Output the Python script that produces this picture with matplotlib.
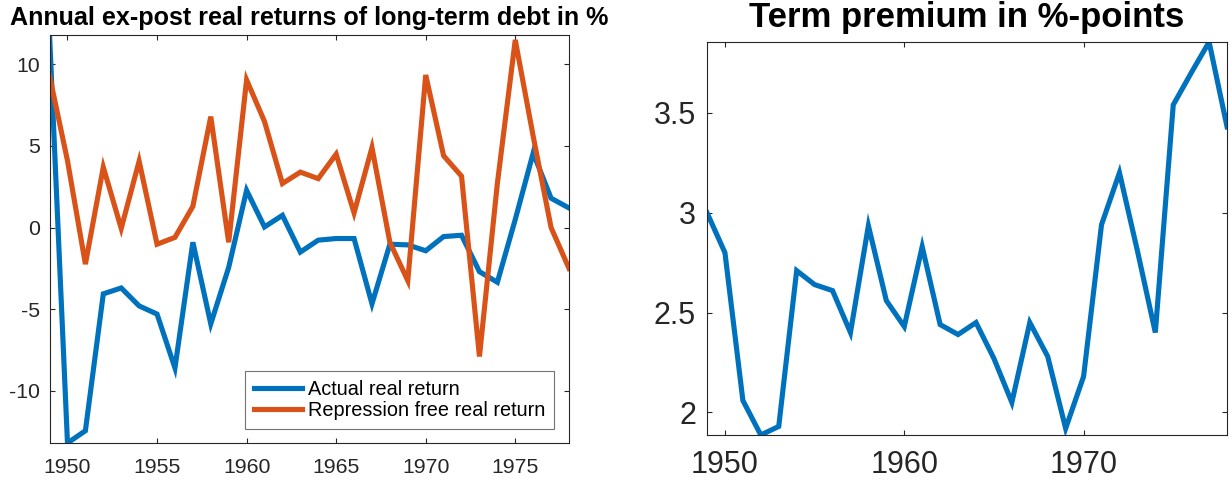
import matplotlib
matplotlib.use("Agg")
import matplotlib.pyplot as plt
import numpy as np

plt.rcParams['font.family'] = ['Liberation Sans', 'DejaVu Sans']

years = list(range(1949, 1979))

actual_real_return = [11.8, -13.2, -12.45, -4.06, -3.7, -4.8, -5.3, -8.6, -0.9, -5.9,
                      -2.44, 2.28, 0.04, 0.75, -1.5, -0.77, -0.67, -0.67, -4.67, -1.02,
                      -1.06, -1.42, -0.55, -0.47, -2.7, -3.35, 0.5, 4.57, 1.8, 1.2]

repression_free_return = [9.3, 4.1, -2.24, 3.7, -0.05, 4.07, -1.02, -0.6, 1.3, 6.8,
                          -0.9, 9.05, 6.5, 2.7, 3.4, 3.0, 4.5, 0.9, 4.9, -0.9,
                          -3.25, 9.35, 4.4, 3.15, -7.9, 2.7, 11.5, 5.6, 0.0, -2.5]

term_premium = [3.0, 2.80, 2.06, 1.887, 1.93, 2.71, 2.64, 2.61, 2.40, 2.935,
                2.56, 2.43, 2.83, 2.44, 2.39, 2.45, 2.27, 2.05, 2.45, 2.28,
                1.92, 2.18, 2.94, 3.20, 2.81, 2.40, 3.54, 3.70, 3.855, 3.43]

left_xticks = [1950, 1955, 1960, 1965, 1970, 1975]
left_yticks = [-10, -5, 0, 5, 10]
right_xticks = [1950, 1960, 1970]
right_yticks = [2, 2.5, 3, 3.5]
right_yticklabels = ["2", "2.5", "3", "3.5"]

title_left = "Annual ex-post real returns of long-term debt in %"
title_right = "Term premium in %-points"
legend_labels = ["Actual real return", "Repression free real return"]

BLUE = "#0072BD"
ORANGE = "#D95319"
AXC = "#262626"

fig = plt.figure(figsize=(12.3, 4.83), dpi=100)
ax1 = fig.add_axes([0.0403, 0.0828, 0.4223, 0.8447])
ax2 = fig.add_axes([0.5748, 0.0994, 0.4228, 0.8137])

def style(ax, fs, padx, pady):
    for s in ax.spines.values():
        s.set_color(AXC)
        s.set_linewidth(0.8)
    ax.tick_params(direction='in', length=3.6, width=0.8, color=AXC,
                   labelcolor=AXC, top=True, right=True)
    ax.tick_params(axis='x', labelsize=fs, pad=padx)
    ax.tick_params(axis='y', labelsize=fs, pad=pady)

# Left panel
ax1.plot(years, actual_real_return, color=BLUE, lw=3.7, solid_joinstyle='miter', label=legend_labels[0])
ax1.plot(years, repression_free_return, color=ORANGE, lw=3.7, solid_joinstyle='miter', label=legend_labels[1])
ax1.set_xlim(years[0], years[-1])
allv = actual_real_return + repression_free_return
ax1.set_ylim(min(allv), max(allv))
ax1.set_xticks(left_xticks)
ax1.set_yticks(left_yticks)
ax1.set_yticklabels([str(v) for v in left_yticks])
style(ax1, 15.3, 10.5, 7)
ax1.set_title(title_left, fontsize=18.1, fontweight='bold', pad=7)
leg = ax1.legend(loc='lower right', bbox_to_anchor=(0.971, 0.034), borderaxespad=0,
                 fontsize=14.3, handlelength=2.4, handletextpad=0.3,
                 borderpad=0.45, labelspacing=0.12, fancybox=False, framealpha=1)
leg.get_frame().set_edgecolor('0.45')
leg.get_frame().set_linewidth(0.8)
for t in leg.get_texts():
    t.set_color('black')

# Right panel
ax2.plot(years, term_premium, color=BLUE, lw=3.7, solid_joinstyle='miter')
ax2.set_xlim(years[0], years[-1])
ax2.set_ylim(min(term_premium), max(term_premium))
ax2.set_xticks(right_xticks)
ax2.set_yticks(right_yticks)
ax2.set_yticklabels(right_yticklabels)
style(ax2, 22, 11, 8)
ax2.set_title(title_right, fontsize=25, fontweight='bold', pad=11)

fig.savefig("out.png", dpi=100)
